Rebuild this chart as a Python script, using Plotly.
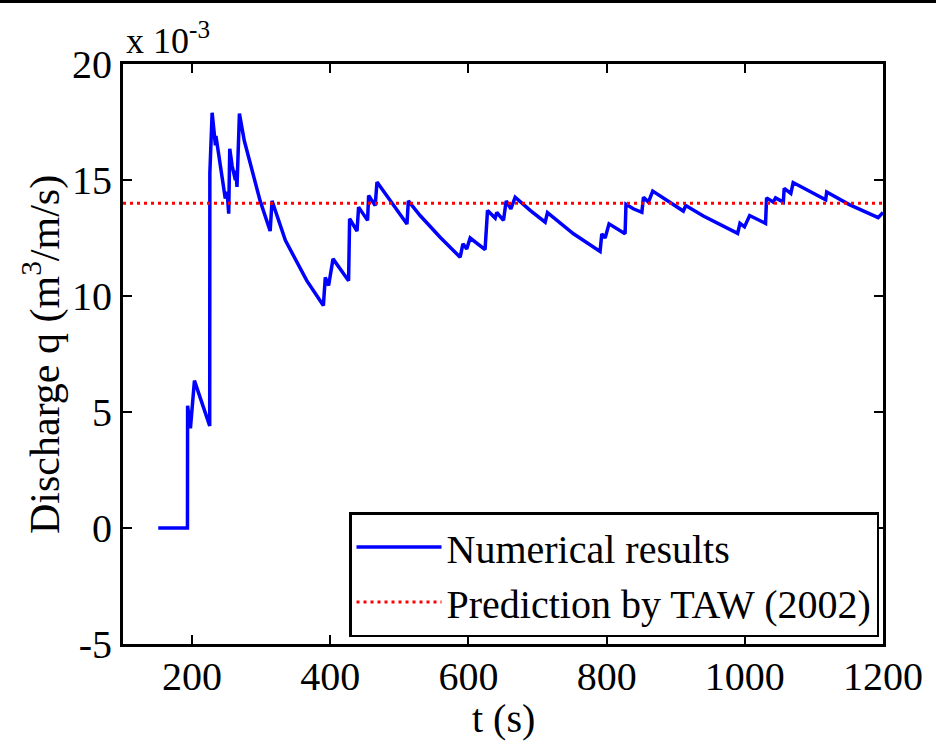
import plotly.graph_objects as go

# time (s)
t_vals = [151, 193.3, 193.5, 197.6, 203.4, 225.5, 225.7, 229.0, 233.8, 234.5, 244.5,
          248.0, 250.7, 253.0, 254.5, 258.0, 262.7, 263.5, 265.0, 268.5, 275.5,
          298.5, 313.0, 315.7, 335.0, 366.0, 390.0, 392.8, 397.6, 404.0, 426.5,
          428.0, 438.7, 441.0, 454.0, 455.5, 465.0, 467.6, 511.0, 513.0, 530.0,
          559.0, 588.0, 592.0, 597.5, 602.5, 624.0, 627.6, 638.7, 641.0, 650.7,
          654.6, 661.4, 667.6, 689.3, 711.0, 714.4, 752.0, 790.5, 793.0, 797.8,
          803.5, 826.7, 828.0, 838.6, 851.0, 853.3, 860.5, 866.7, 891.9, 911.0,
          914.5, 940.0, 989.6, 993.0, 999.5, 1007.0, 1030.0, 1031.5, 1041.0, 1044.5,
          1055.7, 1057.0, 1066.6, 1070.0, 1117.0, 1118.5, 1151.3, 1193.0, 1200.0]
# discharge (x 10^-3 m^3/m/s)
q_vals = [0.0, 0.0, 5.27, 4.3, 6.35, 4.4, 15.3, 17.9, 16.5, 16.9, 14.9,
          14.2, 14.5, 13.55, 16.35, 15.6, 15.0, 15.4, 14.7, 17.86, 16.7,
          14.1, 12.8, 14.1, 12.4, 10.66, 9.59, 10.8, 10.45, 11.6, 10.66,
          13.33, 12.8, 13.83, 13.26, 14.33, 13.9, 14.91, 13.1, 14.1, 13.47,
          12.53, 11.67, 12.25, 12.03, 12.5, 12.0, 13.69, 13.36, 13.6, 13.26,
          14.1, 13.76, 14.26, 13.69, 13.18, 13.59, 12.68, 11.92, 12.68, 12.5,
          13.11, 12.68, 13.95, 13.76, 13.61, 14.26, 14.05, 14.52, 14.05, 13.66,
          13.9, 13.45, 12.7, 13.13, 12.98, 13.47, 13.13, 14.23, 14.05, 14.23,
          14.05, 14.64, 14.42, 14.89, 14.15, 14.48, 13.94, 13.38, 13.6]

taw_t = [100, 1200]
taw_q = [14.0, 14.0]

x_ticks = [200, 400, 600, 800, 1000, 1200]
x_labels = ["200", "400", "600", "800", "1000", "1200"]
y_ticks = [-5, 0, 5, 10, 15, 20]
y_labels = ["-5", "0", "5", "10", "15", "20"]

FONT = "Liberation Serif, Times New Roman, serif"

fig = go.Figure()
fig.add_trace(go.Scatter(x=t_vals, y=q_vals, mode="lines", name="Numerical results",
                         line=dict(color="#0000FF", width=3.5)))
fig.add_trace(go.Scatter(x=taw_t, y=taw_q, mode="lines", name="Prediction by TAW (2002)",
                         line=dict(color="#FF0000", width=3, dash="3px,4px")))

L, R, T, B = 123, 53, 64, 102
W, H = 936, 746
pw, ph = W - L - R, H - T - B

axis_common = dict(showline=True, linecolor="black", linewidth=3, mirror="ticks",
                   ticks="inside", ticklen=9, tickwidth=2, tickcolor="black",
                   showgrid=False, zeroline=False,
                   tickfont=dict(family=FONT, size=40, color="black"))

fig.update_layout(
    width=W, height=H,
    margin=dict(l=L, r=R, t=T, b=B),
    paper_bgcolor="white", plot_bgcolor="white",
    xaxis=dict(range=[100, 1200], tickvals=x_ticks, ticktext=x_labels,
               ticklabelstandoff=-5, **axis_common),
    yaxis=dict(range=[-5, 20], tickvals=y_ticks, ticktext=y_labels,
               ticklabelstandoff=0, **axis_common),
    legend=dict(x=(879 - L) / pw, xanchor="right", y=(H - B - 637) / ph, yanchor="bottom",
                bordercolor="black", borderwidth=2.5, bgcolor="white",
                font=dict(family=FONT, size=40, color="black"),
                tracegroupgap=0, itemwidth=85),
    showlegend=True,
    annotations=[
        dict(text="t (s)", xref="paper", yref="paper", x=0.5, y=(H - B - 718) / ph,
             xanchor="center", yanchor="middle", showarrow=False,
             font=dict(family=FONT, size=40, color="black")),
        dict(text="Discharge q (m<sup>3</sup>/m/s)", xref="paper", yref="paper",
             x=(42 - L) / pw, y=(H - B - 355) / ph, textangle=-90,
             xanchor="center", yanchor="middle", showarrow=False,
             font=dict(family=FONT, size=42, color="black")),
        dict(text="x 10<sup>-3</sup>", xref="paper", yref="paper",
             x=(124 - L) / pw, y=(H - B - 38) / ph, xanchor="left", yanchor="middle",
             showarrow=False, font=dict(family=FONT, size=36, color="black")),
    ],
    shapes=[
        dict(type="line", xref="paper", yref="paper", x0=-L / pw, x1=(W - L) / pw,
             y0=(H - B - 1.5) / ph, y1=(H - B - 1.5) / ph,
             line=dict(color="black", width=3)),
    ],
)

fig.write_html("out.html", config={"displayModeBar": False},
               post_script="document.body.style.margin='0px';")
